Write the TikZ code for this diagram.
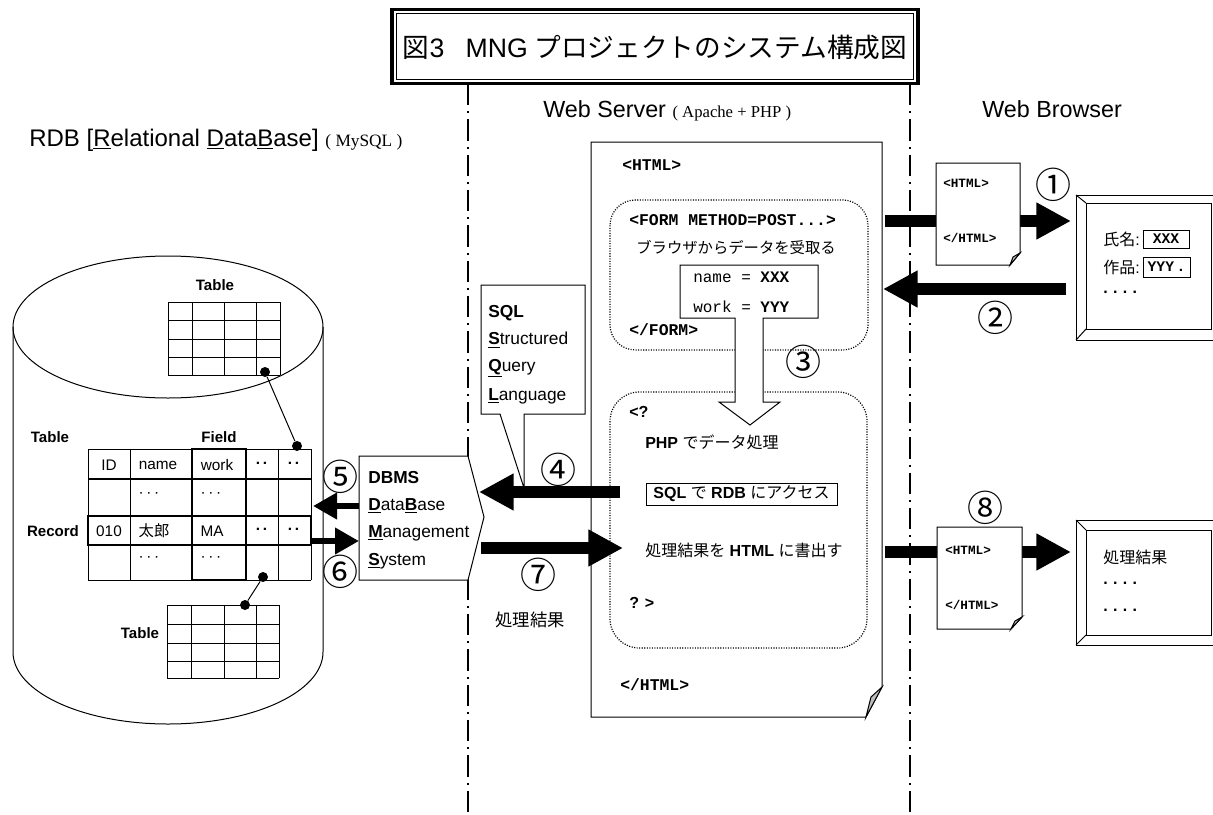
\documentclass[tikz,border=0pt]{standalone}
\usepackage{fontspec}
\setmainfont{Liberation Sans}
\setmonofont{Liberation Mono}
\newfontfamily\jp{Noto Sans CJK JP}
\newfontfamily\serifrm{Liberation Serif}
\usetikzlibrary{arrows.meta}
\newcommand{\uB}[1]{\underline{\textbf{#1}}}
\newcommand{\fs}[1]{\fontsize{#1}{#1}\selectfont}
\begin{document}
\begin{tikzpicture}[x=0.75pt,y=-0.75pt,
  thinl/.style={line width=0.75pt},
  thickl/.style={line width=2.2pt},
  bigarr/.style={line width=8.5pt,-{Triangle[length=26pt,width=26pt]}},
  smallarr/.style={line width=5.2pt,-{Triangle[length=18pt,width=19pt]}},
  dashdot/.style={line width=1.2pt,dash pattern=on 16pt off 4.5pt on 1.5pt off 4.5pt},
  dotbox/.style={line width=0.9pt,dash pattern=on 0.8pt off 1.1pt,rounded corners=19pt},
  num/.style={font=\jp\fs{27pt},inner sep=0pt},
  lbl/.style={inner sep=0pt,anchor=west},
  cell/.style={inner sep=0pt,font=\fs{11.5pt}},
  blab/.style={inner sep=0pt,font=\bfseries\fs{11.3pt}},
  dotn/.style={circle,fill=black,inner sep=0pt,minimum size=7.5pt},
  tag/.style={inner sep=0pt,anchor=west,font=\ttfamily\bfseries\fs{12.3pt}},
  stag/.style={inner sep=0pt,anchor=west,font=\ttfamily\bfseries\fs{9.5pt}},
  doc/.style={thinl,fill=white},
  flap/.style={thinl,fill=black!25}
]
\useasboundingbox (0,0) rectangle (1213,814);
\clip (0,0) rectangle (1213,814);

% ---------- title ----------
\draw[line width=2.4pt] (392,9.5) rectangle (918,83.5);
\draw[line width=0.7pt] (396.5,13.5) rectangle (913.5,79.5);
\node[inner sep=0pt,font=\fs{20pt}] (title) at (655,47)
  {{\jp 図}3\hspace{0.8em}MNG\hspace{0.25em}{\jp プロジェクトのシステム構成図}};

% ---------- separators ----------
\coordinate (s1t) at (468,84); \coordinate (s1b) at (468,814);
\coordinate (s2t) at (910,84); \coordinate (s2b) at (910,814);
\draw[dashdot] (s1t) -- (s1b);
\draw[dashdot] (s2t) -- (s2b);

% ---------- headers ----------
\node[anchor=base west,inner sep=0pt] (ws) at (543,117)
  {\fs{17.5pt}Web Server {\serifrm\fs{12.5pt}( Apache + PHP )}};
\node[anchor=base west,inner sep=0pt] (wb) at (982,117) {\fs{17.5pt}Web Browser};
\node[anchor=base west,inner sep=0pt] (rdb) at (29,146)
  {\fs{18pt}RDB [\underline{R}elational \underline{D}ata\underline{B}ase] {\serifrm\fs{13pt}( MySQL )}};

% ---------- cylinder ----------
\draw[thinl] (13,327) -- (13,652) arc[start angle=180,end angle=0,x radius=155,y radius=72] -- (323,327);
\draw[thinl] (168,327) ellipse [x radius=155,y radius=71];

% top table
\foreach \x in {168,192,224,256,280} \draw[thinl] (\x,302) -- (\x,375);
\foreach \y in {302,320.5,339,357,375} \draw[thinl] (168,\y) -- (280,\y);
\node[blab] (tt) at (215,285) {Table};

% main table
\foreach \x in {88,130,192,246,278,311} \draw[thinl] (\x,449) -- (\x,580);
\foreach \y in {449,516,545,580} \draw[thinl] (88,\y) -- (311,\y);
\draw[thickl] (88,479) -- (311,479);
\draw[thickl] (192,449) rectangle (246,580);
\draw[thickl] (88,516) rectangle (311,545);
\node[blab] (mt) at (50,437) {Table};
\node[blab] (fld) at (219,437) {Field};
\node[blab] (rec) at (53,531) {Record};
\node[cell] (c11) at (109,465) {ID};
\node[cell] (c12) at (158,465) {name};
\node[cell] (c13) at (217,465) {work};
\node[cell,font=\bfseries\fs{11.5pt}] (c14) at (262,465) {·\hspace{1.5pt}·};
\node[cell,font=\bfseries\fs{11.5pt}] (c15) at (294,465) {·\hspace{1.5pt}·};
\node[cell] (c22) at (149,495) {·\hspace{2pt}·\hspace{2pt}·};
\node[cell] (c23) at (211,495) {·\hspace{2pt}·\hspace{2pt}·};
\node[cell] (c31) at (109,531) {010};
\node[cell] (c32) at (154,531) {\jp 太郎};
\node[cell] (c33) at (212,531) {MA};
\node[cell,font=\bfseries\fs{11.5pt}] (c34) at (262,531) {·\hspace{1.5pt}·};
\node[cell,font=\bfseries\fs{11.5pt}] (c35) at (294,531) {·\hspace{1.5pt}·};
\node[cell] (c42) at (149,559) {·\hspace{2pt}·\hspace{2pt}·};
\node[cell] (c43) at (211,559) {·\hspace{2pt}·\hspace{2pt}·};

% bottom table
\foreach \x in {167,191,224,256,279} \draw[thinl] (\x,605) -- (\x,678);
\foreach \y in {605,624,643,661,678} \draw[thinl] (167,\y) -- (279,\y);
\node[blab] (bt) at (140,633) {Table};

% link dots
\node[dotn] (d1) at (265,372) {};
\node[dotn] (d2) at (297,446) {};
\node[dotn] (d3) at (263,577) {};
\node[dotn] (d4) at (245,605) {};
\draw[thinl] (d1) -- (d2);
\draw[thinl] (d3) -- (d4);

% ---------- DBMS ----------
\draw[thinl,fill=white] (359,456) -- (468,456) -- (484,517) -- (468,580) -- (359,580) -- cycle;
\coordinate (dbmsL5) at (359,506);
\coordinate (dbmsL6) at (359,541);
\coordinate (dbmsR4) at (479,492);
\coordinate (dbmsR7) at (481,548);
\node[lbl,font=\fs{13pt}] (dbms1) at (368,478) {\textbf{DBMS}};
\node[lbl,font=\fs{13pt}] (dbms2) at (368,506) {\uB{D}ata\uB{B}ase};
\node[lbl,font=\fs{13pt}] (dbms3) at (368,533) {\uB{M}anagement};
\node[lbl,font=\fs{13pt}] (dbms4) at (368,561) {\uB{S}ystem};

% ---------- SQL callout ----------
\draw[thinl,fill=white] (481,285) -- (585,285) -- (585,414) -- (524,414) -- (524,488) -- (500,414) -- (481,414) -- cycle;
\node[lbl,font=\fs{13pt}] (sql1) at (488,313) {\textbf{SQL}};
\node[lbl,font=\fs{13pt}] (sql2) at (488,340) {\uB{S}tructured};
\node[lbl,font=\fs{13pt}] (sql3) at (488,368) {\uB{Q}uery};
\node[lbl,font=\fs{13pt}] (sql4) at (488,396) {\uB{L}anguage};

% ---------- server page ----------
\draw[thinl,fill=white] (591,142) -- (882,142) -- (882,687) -- (866,717) -- (591,717) -- cycle;
\draw[flap] (882,687) -- (871,697) -- (866,717) -- cycle;
\node[tag] (h1) at (622,165) {<HTML>};
\draw[dotbox] (610,200) rectangle (868,350);
\node[tag] (form1) at (629,220) {<FORM METHOD=POST...>};
\node[inner sep=0pt,font=\jp\fs{11.5pt}] (recv) at (736,248) {ブラウザからデータを受取る};
\node[tag] (form2) at (629,330) {</FORM>};
\draw[dotbox,rounded corners=22pt] (610,392) rectangle (867,648);
% hollow arrow 3 with data box
\draw[thinl,fill=white] (680,265) -- (818,265) -- (818,318) -- (763,318) -- (763,402) -- (780,402)
  -- (750,425) -- (719,402) -- (735,402) -- (735,318) -- (680,318) -- cycle;
\node[lbl,font=\ttfamily\fs{12pt}] (nm) at (693,277) {name = \textbf{XXX}};
\node[lbl,font=\ttfamily\fs{12pt}] (wk) at (693,307) {work = \textbf{YYY}};
\node[num] (n3) at (803,362) {③};
\node[lbl,font=\bfseries\fs{12pt}] (php1) at (629,412) {<?};
\node[lbl,font=\fs{12pt}] (php2) at (645,442) {\textbf{PHP} {\jp でデータ処理}};
\node[draw,thinl,inner sep=0pt,minimum width=143.25pt,minimum height=16.5pt,font=\fs{12pt}] (sqlrdb) at (741.5,494)
  {\textbf{SQL} {\jp で} \textbf{RDB} {\jp にアクセス}};
\node[lbl,font=\fs{12pt}] (php3) at (645,550) {{\jp 処理結果を} \textbf{HTML} {\jp に書出す}};
\node[lbl,font=\bfseries\fs{12pt}] (php4) at (629,603) {? >};
\node[tag] (h2) at (620,685) {</HTML>};

% ---------- arrows server <-> DBMS ----------
\coordinate (a4s) at (620,492);
\draw[bigarr] (a4s) -- (dbmsR4);
\coordinate (a7e) at (623,548);
\draw[bigarr] (dbmsR7) -- (a7e);
\node[num] (n4) at (558,470) {④};
\node[num] (n7) at (538,575) {⑦};
\node[inner sep=0pt,font=\jp\fs{13pt}] (res) at (530,620) {処理結果};

% ---------- arrows DBMS <-> table ----------
\coordinate (t5) at (313,506);
\coordinate (t6) at (312,541);
\draw[smallarr] (dbmsL5) -- (t5);
\draw[smallarr] (t6) -- (dbmsL6);
\node[num] (n5) at (340,477) {⑤};
\node[num] (n6) at (340,572) {⑥};

% ---------- browser windows ----------
\draw[thinl] (1076,195) rectangle (1225,340);
\draw[thinl] (1086,203) rectangle (1211,329);
\draw[thinl] (1076,195) -- (1086,203);
\draw[thinl] (1076,340) -- (1086,329);
\coordinate (b1) at (1071,221);
\coordinate (b1r) at (1066,289);
\node[lbl,font=\jp\fs{12pt}] (nm1) at (1103,239) {氏名\normalfont:};
\node[draw,thinl,inner sep=0pt,minimum width=34.5pt,minimum height=13.5pt,font=\ttfamily\bfseries\fs{11pt}] (xxx) at (1166,239) {XXX};
\node[lbl,font=\jp\fs{12pt}] (nm2) at (1103,267) {作品\normalfont:};
\node[draw,thinl,inner sep=0pt,minimum width=35.25pt,minimum height=15pt,font=\ttfamily\bfseries\fs{11pt}] (yyy) at (1166.5,267) {YYY\,.};
\node[lbl,font=\bfseries\fs{12pt}] (dt1) at (1103,292) {.\,\,.\,\,.\,\,.};

\draw[thinl] (1076,520) rectangle (1225,645);
\draw[thinl] (1086,530) rectangle (1211,635);
\draw[thinl] (1076,520) -- (1086,530);
\draw[thinl] (1076,645) -- (1086,635);
\coordinate (b2) at (1071,552);
\node[lbl,font=\jp\fs{12pt}] (res2) at (1103,557) {処理結果};
\node[lbl,font=\bfseries\fs{12pt}] (dt2) at (1103,583) {.\,\,.\,\,.\,\,.};
\node[lbl,font=\bfseries\fs{12pt}] (dt3) at (1103,610) {.\,\,.\,\,.\,\,.};

% ---------- arrows server <-> browser ----------
\coordinate (p1) at (885,221);
\coordinate (p2) at (883,289);
\coordinate (p8) at (885,552);
\draw[bigarr] (p1) -- (b1);
\draw[bigarr] (b1r) -- (p2);
\draw[bigarr] (p8) -- (b2);

% small documents
\draw[doc] (936,163) -- (1020,163) -- (1020,253) -- (1010,265) -- (936,265) -- cycle;
\draw[flap] (1020,253) -- (1013,257) -- (1010,265) -- cycle;
\node[stag] (sh1) at (943,183) {<HTML>};
\node[stag] (sh2) at (943,238) {</HTML>};
\draw[doc] (937,527) -- (1022,527) -- (1022,617) -- (1011,629) -- (937,629) -- cycle;
\draw[flap] (1022,617) -- (1015,621) -- (1011,629) -- cycle;
\node[stag] (sh3) at (945,550) {<HTML>};
\node[stag] (sh4) at (945,605) {</HTML>};

\node[num] (n1) at (1053,185) {①};
\node[num] (n2) at (995,318) {②};
\node[num] (n8) at (985,508) {⑧};
\end{tikzpicture}
\end{document}
